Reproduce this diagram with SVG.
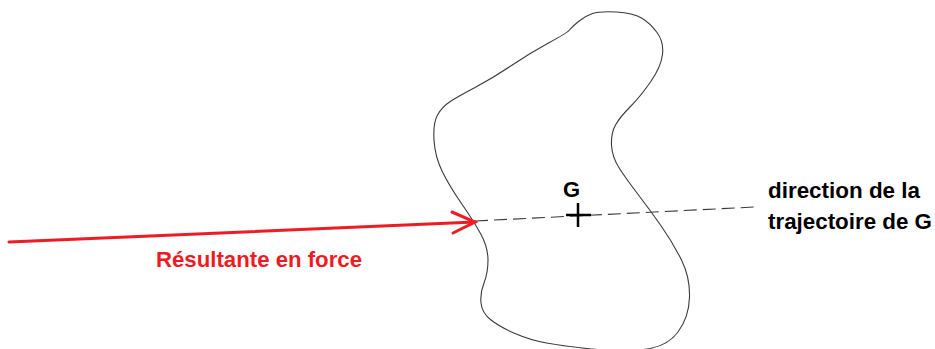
<svg xmlns="http://www.w3.org/2000/svg" width="935" height="349" viewBox="0 0 935 349">
<style>
.lbl{font-family:"Liberation Sans",Arial,sans-serif;font-weight:bold;font-size:22px}
.red{fill:#ED1C24}
.blk{fill:#000}
</style>
<rect width="935" height="349" fill="#fff"/>
<g id="body">
<path fill="none" stroke="#3a3a3a" stroke-width="1.1" d="M511.5,65.5 Q530,53 548.5,43 Q567,33 569.5,30 Q572,27 578.5,21.5 Q585,16 592.5,13.5 Q600,11 616.5,12 Q633,13 641.5,18 Q650,23 657,32.5 Q664,42 662.5,54.5 Q661,67 650.5,82 Q640,97 630,107 Q620,117 615.5,125 Q611,133 611.5,145 Q612,157 619.5,168.5 Q627,180 638.5,195 Q650,210 661.5,226.5 Q673,243 681.5,260 Q690,277 689.5,297 Q689,317 678,332 Q667,347 643.5,349.5 Q620,352 591.5,349 Q563,346 546.5,343 Q530,340 515,333.5 Q500,327 491,320 Q482,313 481,303 Q480,293 484,283 Q488,273 488,260 Q488,247 480.5,233.5 Q473,220 461.5,203.5 Q450,187 442.5,172 Q435,157 434,140 Q433,123 437.5,115 Q442,107 449.5,102 Q457,97 475,87.5 Q493,78 511.5,65.5 Z"/>
</g>
<g id="connectors">
<line x1="475" y1="221" x2="755" y2="207" stroke="#3a3a3a" stroke-width="1.1" stroke-dasharray="13 6"/>
<g id="force-arrow" stroke="#ED1C24" stroke-width="3" stroke-linecap="round" fill="none">
<line x1="9" y1="242" x2="475" y2="222"/>
<polyline points="452,212 475,222 453,233"/>
</g>
</g>
<g id="G-point">
<g stroke="#000" stroke-width="2.5">
<line x1="566" y1="215" x2="591" y2="215"/>
<line x1="578" y1="203" x2="578" y2="227"/>
</g>
<text class="lbl blk" x="563" y="197" font-size="21">G</text>
</g>
<g id="label-force">
<text class="lbl red" x="156" y="267" textLength="206" lengthAdjust="spacingAndGlyphs">Résultante en force</text>
</g>
<g id="label-direction">
<text class="lbl blk" x="768" y="198" textLength="152" lengthAdjust="spacingAndGlyphs">direction de la</text>
<text class="lbl blk" x="768" y="229" textLength="164" lengthAdjust="spacingAndGlyphs">trajectoire de G</text>
</g>
</svg>
